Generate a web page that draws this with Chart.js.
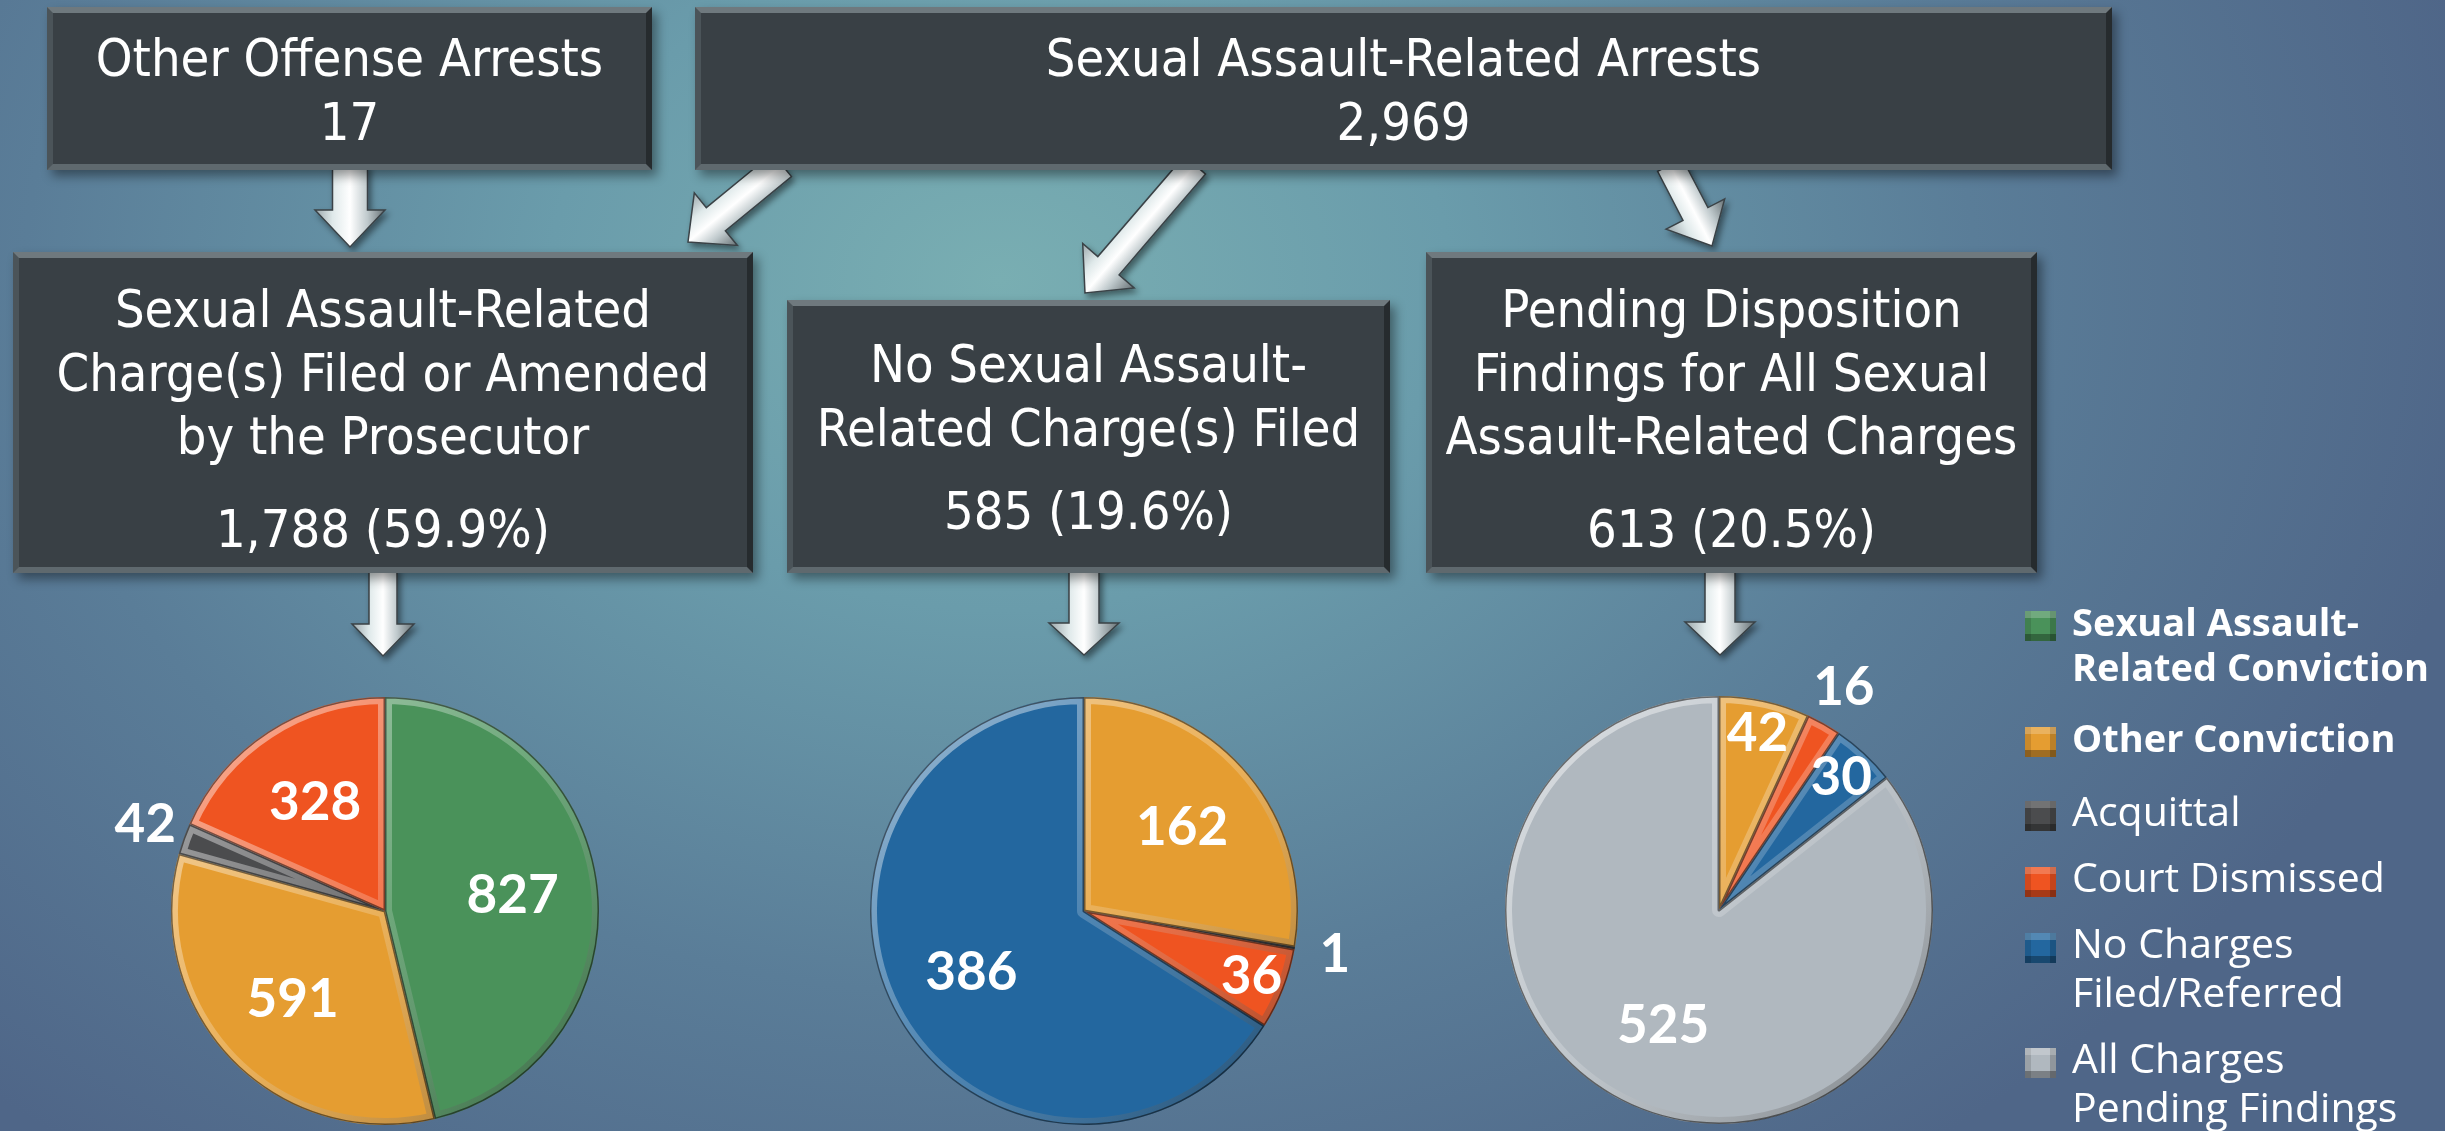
<!DOCTYPE html>
<html>
<head>
<meta charset="utf-8">
<script src="https://cdn.jsdelivr.net/npm/chart.js@4.4.1/dist/chart.umd.min.js"></script>
<style>
  html, body { margin: 0; padding: 0; }
  body {
    width: 2445px; height: 1131px; overflow: hidden; position: relative;
    background: radial-gradient(ellipse 1500px 1100px at 1000px 280px, #79aeb2 0%, #6a9cab 30%, #5a7d98 65%, #4f6688 100%);
  }
  #arrows { position: absolute; left: 0; top: 0; }
  .box {
    position: absolute; box-sizing: border-box;
    background: #394045;
    border: 6px solid; border-color: #6f797e #262b2e #5f696e #4b5459;
    box-shadow: 5px 6px 10px rgba(0,0,0,0.4);
    color: #fff; text-align: center; white-space: nowrap;
    font-family: "DejaVu Sans Condensed", "DejaVu Sans", sans-serif; font-stretch: condensed;
    font-size: 52px; line-height: 63.5px;
  }
  .pie { position: absolute; width: 640px; height: 540px; }
  #legend {
    position: absolute; left: 2025px; top: 599px;
    display: flex; flex-direction: column; gap: 17px;
    font-family: "Open Sans", sans-serif; color: #fff;
  }
  .item { display: flex; align-items: flex-start; }
  .sw { width: 31px; height: 30px; margin-right: 16px; flex: none; }
  .txt { white-space: pre; }
</style>
</head>
<body>
<svg id="arrows" width="2445" height="1131"></svg>

<div class="box" style="left:47px; top:7px; width:605px; height:163px; padding-top:14px;">Other Offense Arrests<br>17</div>
<div class="box" style="left:695px; top:7px; width:1417px; height:163px; padding-top:14px;">Sexual Assault-Related Arrests<br>2,969</div>
<div class="box" style="left:13px; top:252px; width:740px; height:321px; padding-top:20px;">Sexual Assault-Related<br>Charge(s) Filed or Amended<br>by the Prosecutor<div style="margin-top:29px;">1,788 (59.9%)</div></div>
<div class="box" style="left:787px; top:300px; width:603px; height:273px; padding-top:27px;">No Sexual Assault-<br>Related Charge(s) Filed<div style="margin-top:20px;">585 (19.6%)</div></div>
<div class="box" style="left:1426px; top:252px; width:611px; height:321px; padding-top:20px;">Pending Disposition<br>Findings for All Sexual<br>Assault-Related Charges<div style="margin-top:29px;">613 (20.5%)</div></div>

<div class="pie" style="left:65px; top:641px;"><canvas id="pie1"></canvas></div>
<div class="pie" style="left:764px; top:641px;"><canvas id="pie2"></canvas></div>
<div class="pie" style="left:1399px; top:640px;"><canvas id="pie3"></canvas></div>

<div id="legend"></div>

<script>
// categories, in legend order
const categories = [
  'Sexual Assault-\nRelated Conviction',
  'Other Conviction',
  'Acquittal',
  'Court Dismissed',
  'No Charges\nFiled/Referred',
  'All Charges\nPending Findings'
];
// counts per category for each pie
const chargedValues = [827, 591, 42, 328, 0, 0];
const notChargedValues = [0, 162, 1, 36, 386, 0];
const pendingValues = [0, 42, 0, 16, 30, 525];

const colors = ['#4a925a', '#e59d31', '#4b4c4e', '#ef5421', '#23679f', '#b0b8bf'];
const boldLegend = [true, true, false, false, false, false];

// arrows: start x, start y, tip x, tip y, shaft width, head width, head length
const arrowSpecs = [
  [350, 165, 350, 247, 35, 70, 37],
  [782, 165, 688, 242, 30, 68, 36],
  [1195, 165, 1085, 293, 28, 68, 36],
  [1670, 165, 1712, 246, 28, 66, 36],
  [383, 568, 383, 656, 28, 62, 32],
  [1084, 568, 1084, 655, 30, 70, 32],
  [1720, 568, 1720, 655, 30, 70, 33]
];

function drawArrows() {
  const svg = document.getElementById('arrows');
  let defs = '<defs><filter id="sh" x="-30%" y="-30%" width="160%" height="160%">' +
    '<feDropShadow dx="3" dy="4" stdDeviation="3" flood-color="#000" flood-opacity="0.45"/></filter>';
  let shapes = '';
  arrowSpecs.forEach(([sx, sy, tx, ty, w, hw, hl], k) => {
    const len = Math.hypot(tx - sx, ty - sy);
    const dx = (tx - sx) / len, dy = (ty - sy) / len;
    const nx = dy, ny = -dx; // left-hand normal
    const hx = tx - dx * hl, hy = ty - dy * hl;
    const p = (x, y) => x.toFixed(1) + ',' + y.toFixed(1);
    const pts = [
      p(sx + nx * w / 2, sy + ny * w / 2),
      p(hx + nx * w / 2, hy + ny * w / 2),
      p(hx + nx * hw / 2, hy + ny * hw / 2),
      p(tx, ty),
      p(hx - nx * hw / 2, hy - ny * hw / 2),
      p(hx - nx * w / 2, hy - ny * w / 2),
      p(sx - nx * w / 2, sy - ny * w / 2)
    ].join(' ');
    const mx = (sx + hx) / 2, my = (sy + hy) / 2;
    const a = 0.5 - w / (2 * hw), b = 0.5 + w / (2 * hw);
    defs += `<linearGradient id="g${k}" gradientUnits="userSpaceOnUse" x1="${mx - nx * hw / 2}" y1="${my - ny * hw / 2}" x2="${mx + nx * hw / 2}" y2="${my + ny * hw / 2}">` +
      `<stop offset="0" stop-color="#9aa6aa"/><stop offset="${a}" stop-color="#dfe9ea"/>` +
      `<stop offset="0.5" stop-color="#ffffff"/><stop offset="${b}" stop-color="#bfc9cc"/>` +
      `<stop offset="1" stop-color="#667074"/></linearGradient>`;
    shapes += `<polygon points="${pts}" fill="url(#g${k})" stroke="#3a4246" stroke-width="1.5" stroke-linejoin="miter" filter="url(#sh)"/>`;
  });
  svg.innerHTML = defs + '</defs>' + shapes;
}

function drawLegend() {
  const el = document.getElementById('legend');
  categories.forEach((c, i) => {
    const bold = boldLegend[i];
    const item = document.createElement('div');
    item.className = 'item';
    if (i > 0 && boldLegend[i - 1]) item.style.marginTop = '9px';
    const sw = document.createElement('div');
    sw.className = 'sw';
    sw.style.background = colors[i];
    sw.style.marginTop = (bold ? 12 : 15) + 'px';
    sw.style.boxShadow = 'inset 0 7px 0 rgba(255,255,255,0.22), inset 0 -7px 0 rgba(0,0,0,0.3), inset 6px 0 0 rgba(0,0,0,0.12), inset -6px 0 0 rgba(0,0,0,0.18)';
    const t = document.createElement('div');
    t.className = 'txt';
    t.textContent = c;
    t.style.fontWeight = bold ? '700' : '400';
    t.style.fontSize = bold ? '38px' : '41px';
    t.style.lineHeight = bold ? '45px' : '49px';
    item.appendChild(sw);
    item.appendChild(t);
    el.appendChild(item);
  });
}

const bevelAndLabels = {
  id: 'bevelAndLabels',
  afterDatasetsDraw(chart) {
    const ctx = chart.ctx;
    const meta = chart.getDatasetMeta(0);
    const values = chart.data.datasets[0].data;
    const total = values.reduce((s, v) => s + v, 0);
    meta.data.forEach((arc, i) => {
      if (!values[i]) return;
      const {x, y, startAngle, endAngle, outerRadius: r} = arc.getProps(['x', 'y', 'startAngle', 'endAngle', 'outerRadius'], true);
      ctx.save();
      ctx.beginPath();
      ctx.moveTo(x, y);
      ctx.arc(x, y, r, startAngle, endAngle);
      ctx.closePath();
      ctx.clip();
      const g = ctx.createLinearGradient(x - r, y - r, x + r, y + r);
      g.addColorStop(0, 'rgba(255,255,255,0.55)');
      g.addColorStop(0.5, 'rgba(255,255,255,0.2)');
      g.addColorStop(1, 'rgba(0,0,0,0.35)');
      ctx.strokeStyle = g;
      ctx.lineWidth = 14;
      ctx.lineJoin = 'round';
      ctx.stroke();
      ctx.strokeStyle = 'rgba(0,0,0,0.5)';
      ctx.lineWidth = 3;
      ctx.stroke();
      ctx.restore();
    });
    ctx.save();
    ctx.font = 'bold 53px Lato, "Open Sans", sans-serif';
    ctx.fillStyle = '#ffffff';
    ctx.textAlign = 'center';
    ctx.textBaseline = 'alphabetic';
    meta.data.forEach((arc, i) => {
      const v = values[i];
      if (!v) return;
      const {x, y, startAngle, endAngle, outerRadius: r} = arc.getProps(['x', 'y', 'startAngle', 'endAngle', 'outerRadius'], true);
      const share = v / total;
      const f = share < 0.03 ? 1.19 : (share < 0.1 ? 0.84 : 0.6);
      const mid = (startAngle + endAngle) / 2;
      ctx.fillText(String(v), x + Math.cos(mid) * r * f, y + Math.sin(mid) * r * f + 17);
    });
    ctx.restore();
  }
};

function makePie(id, values) {
  new Chart(document.getElementById(id), {
    type: 'pie',
    data: {
      labels: categories,
      datasets: [{
        data: values,
        backgroundColor: colors,
        borderWidth: 0,
        radius: 214
      }]
    },
    options: {
      responsive: true,
      maintainAspectRatio: false,
      animation: false,
      events: [],
      layout: { padding: 0 },
      plugins: {
        legend: { display: false },
        tooltip: { enabled: false }
      }
    },
    plugins: [bevelAndLabels]
  });
}

drawArrows();
drawLegend();
makePie('pie1', chargedValues);
makePie('pie2', notChargedValues);
makePie('pie3', pendingValues);
</script>
</body>
</html>
